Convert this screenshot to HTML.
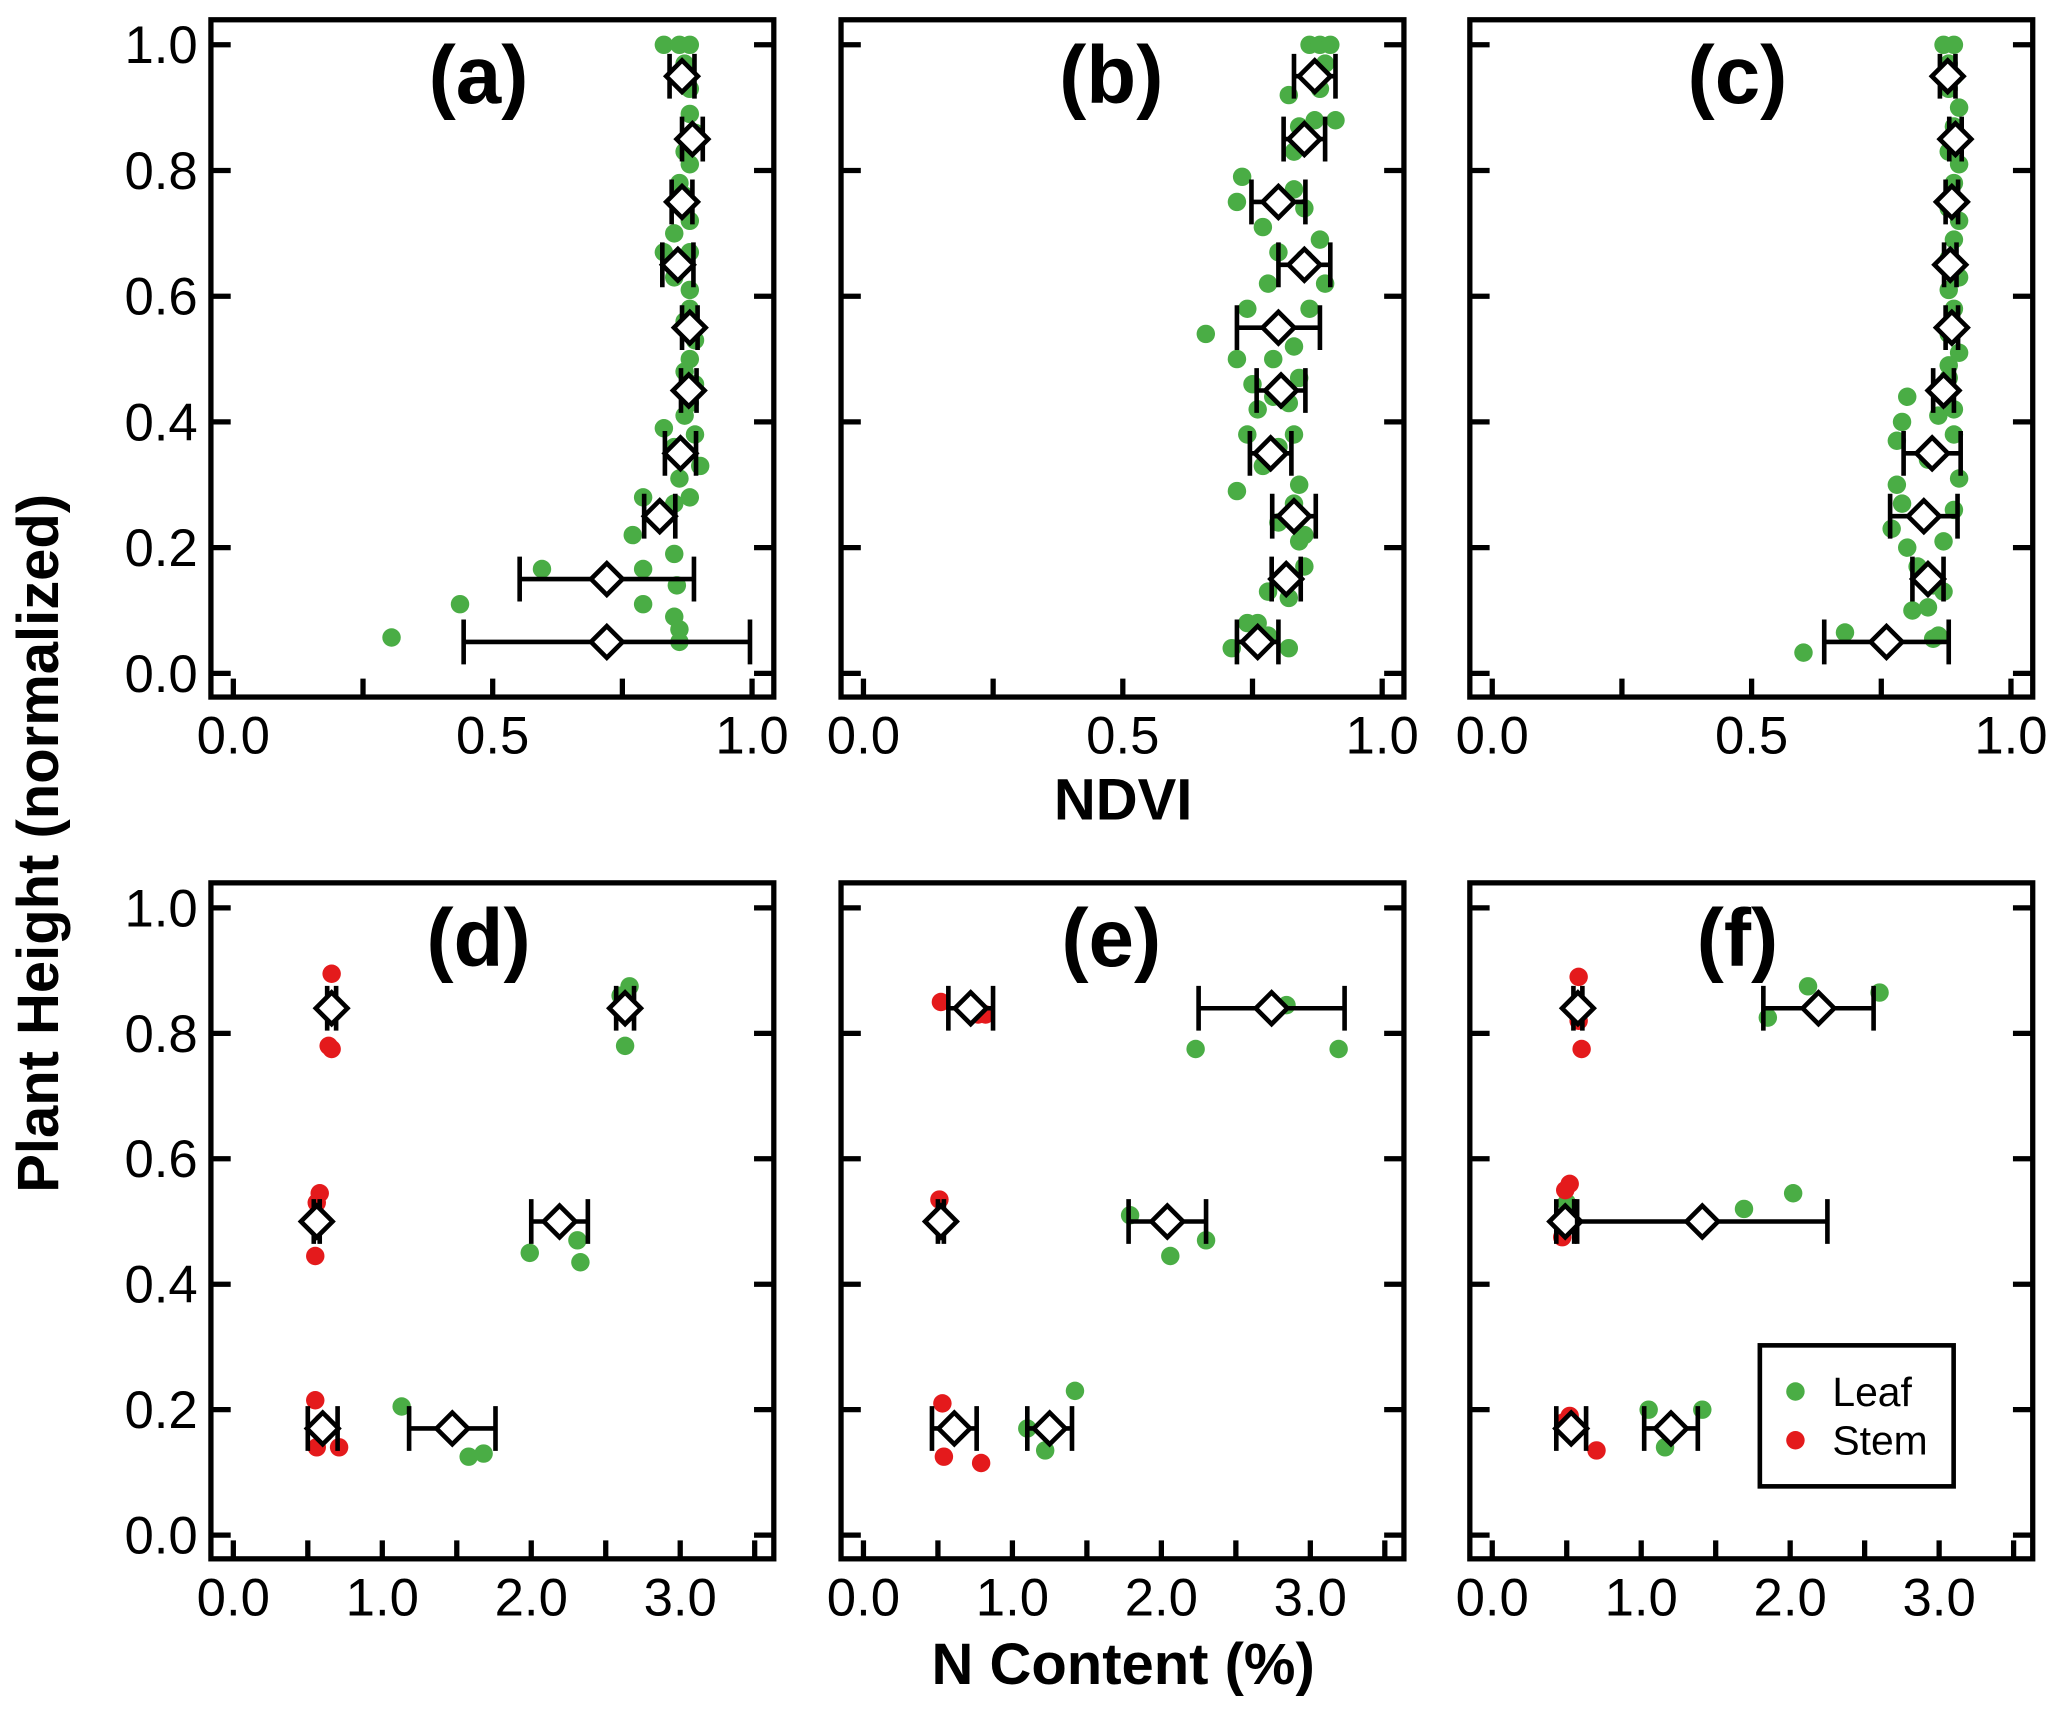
<!DOCTYPE html>
<html><head><meta charset="utf-8"><style>
html,body{margin:0;padding:0;background:#fff;}
svg{display:block;font-family:"Liberation Sans",Arial,sans-serif;}
</style></head><body>
<svg id="chart" width="2067" height="1713" viewBox="0 0 1568 1300" preserveAspectRatio="none" xmlns="http://www.w3.org/2000/svg"></svg>
<script>
// ---------- data ----------
const panelLabels = ["(a)","(b)","(c)","(d)","(e)","(f)"];
const ndviTicks = [0,0.25,0.5,0.75,1.0];
const ndviTickLabels = ["0.0","","0.5","","1.0"];
const nTicks = [0,0.5,1,1.5,2,2.5,3,3.5];
const nTickLabels = ["0.0","","1.0","","2.0","","3.0",""];
const yTicks = [0,0.2,0.4,0.6,0.8,1.0];
const yTickLabels = ["0.0","0.2","0.4","0.6","0.8","1.0"];
const ndviLevels = [0.95,0.85,0.75,0.65,0.55,0.45,0.35,0.25,0.15,0.05];
const aMeans = [0.865,0.885,0.865,0.857,0.88,0.878,0.862,0.822,0.72,0.72];
const aErr = [0.024,0.02,0.02,0.03,0.015,0.015,0.03,0.03,0.168,0.276];
const bMeans = [0.87,0.85,0.80,0.85,0.80,0.805,0.785,0.83,0.815,0.76];
const bErr = [0.04,0.04,0.052,0.05,0.08,0.047,0.04,0.042,0.028,0.04];
const cMeans = [0.878,0.893,0.886,0.883,0.886,0.87,0.848,0.832,0.84,0.76];
const cErr = [0.015,0.012,0.012,0.012,0.012,0.02,0.055,0.065,0.03,0.12];
const aPts = [[0.83,1.0],[0.86,1.0],[0.88,1.0],[0.87,0.97],[0.88,0.93],[0.88,0.89],[0.89,0.86],[0.87,0.83],[0.88,0.81],[0.86,0.78],[0.87,0.76],[0.88,0.72],[0.85,0.70],[0.83,0.67],[0.88,0.67],[0.85,0.63],[0.88,0.61],[0.86,0.66],[0.88,0.58],[0.87,0.56],[0.89,0.53],[0.88,0.50],[0.87,0.48],[0.89,0.46],[0.88,0.43],[0.87,0.41],[0.83,0.39],[0.89,0.38],[0.90,0.33],[0.86,0.31],[0.85,0.36],[0.88,0.28],[0.79,0.28],[0.85,0.27],[0.77,0.22],[0.85,0.19],[0.595,0.166],[0.79,0.166],[0.855,0.14],[0.437,0.11],[0.79,0.11],[0.305,0.057],[0.86,0.07],[0.86,0.05],[0.85,0.09]];
const bPts = [[0.86,1.0],[0.88,1.0],[0.90,1.0],[0.82,0.92],[0.89,0.97],[0.88,0.93],[0.91,0.88],[0.84,0.87],[0.87,0.88],[0.83,0.83],[0.73,0.79],[0.72,0.75],[0.83,0.77],[0.85,0.74],[0.77,0.71],[0.88,0.69],[0.80,0.67],[0.89,0.62],[0.78,0.62],[0.85,0.66],[0.66,0.54],[0.74,0.58],[0.72,0.50],[0.83,0.52],[0.86,0.58],[0.81,0.55],[0.79,0.50],[0.75,0.46],[0.76,0.42],[0.82,0.43],[0.84,0.47],[0.79,0.44],[0.74,0.38],[0.80,0.36],[0.83,0.38],[0.77,0.33],[0.72,0.29],[0.84,0.30],[0.83,0.27],[0.84,0.21],[0.85,0.22],[0.80,0.24],[0.85,0.17],[0.81,0.15],[0.78,0.13],[0.82,0.12],[0.71,0.04],[0.74,0.08],[0.76,0.08],[0.82,0.04],[0.78,0.06]];
const cPts = [[0.87,1.0],[0.89,1.0],[0.88,0.97],[0.89,0.95],[0.88,0.93],[0.90,0.90],[0.89,0.87],[0.88,0.83],[0.90,0.81],[0.89,0.78],[0.88,0.74],[0.90,0.72],[0.89,0.69],[0.88,0.66],[0.90,0.63],[0.88,0.61],[0.89,0.58],[0.88,0.54],[0.90,0.51],[0.88,0.49],[0.80,0.44],[0.88,0.47],[0.89,0.42],[0.86,0.41],[0.79,0.40],[0.78,0.37],[0.89,0.38],[0.84,0.34],[0.90,0.31],[0.78,0.30],[0.77,0.23],[0.79,0.27],[0.89,0.26],[0.87,0.21],[0.80,0.20],[0.82,0.17],[0.85,0.14],[0.87,0.13],[0.81,0.10],[0.84,0.105],[0.60,0.033],[0.68,0.065],[0.85,0.055],[0.86,0.06]];
const nLevels = [0.84,0.50,0.17];
const dStemMeans = [0.66,0.56,0.60];
const dStemErr = [0.03,0.02,0.1];
const dLeafMeans = [2.63,2.19,1.47];
const dLeafErr = [0.06,0.19,0.29];
const eStemMeans = [0.72,0.52,0.61];
const eStemErr = [0.15,0.02,0.15];
const eLeafMeans = [2.74,2.04,1.25];
const eLeafErr = [0.49,0.26,0.15];
const fStemMeans = [0.575,0.49,0.53];
const fStemErr = [0.03,0.06,0.1];
const fLeafMeans = [2.19,1.41,1.20];
const fLeafErr = [0.37,0.84,0.18];
const dStemPts = [[0.66,0.895],[0.64,0.78],[0.66,0.775],[0.58,0.545],[0.56,0.53],[0.55,0.445],[0.55,0.215],[0.56,0.14],[0.71,0.14],[0.60,0.18]];
const dLeafPts = [[2.66,0.875],[2.63,0.78],[2.60,0.86],[1.99,0.45],[2.31,0.47],[2.33,0.435],[1.13,0.205],[1.58,0.125],[1.68,0.13]];
const eStemPts = [[0.52,0.85],[0.77,0.83],[0.82,0.83],[0.51,0.535],[0.52,0.50],[0.53,0.21],[0.54,0.125],[0.79,0.115]];
const eLeafPts = [[2.23,0.775],[3.19,0.775],[2.84,0.845],[1.79,0.51],[2.06,0.445],[2.30,0.47],[1.42,0.23],[1.22,0.135],[1.10,0.17]];
const fStemPts = [[0.58,0.89],[0.58,0.82],[0.60,0.775],[0.52,0.56],[0.49,0.55],[0.47,0.475],[0.52,0.19],[0.70,0.135],[0.48,0.18]];
const fLeafPts = [[2.12,0.875],[2.60,0.865],[1.85,0.825],[1.69,0.52],[2.02,0.545],[0.50,0.53],[1.05,0.20],[1.41,0.20],[1.16,0.14]];

// ---------- drawing ----------
const NS="http://www.w3.org/2000/svg";
const svg=document.getElementById('chart');
const GREEN="#4aad45", RED="#e41a1c";
function mk(tag,attrs,parent){const e=document.createElementNS(NS,tag);for(const k in attrs)e.setAttribute(k,attrs[k]);(parent||svg).appendChild(e);return e;}

const colsX=[160,638,1115];
const rows=[{top:15,bottom:529,y1:34,y0:511},{top:670,bottom:1183,y1:689,y0:1165}];

function makePanel(idx,row,col,xmax,xPerUnit,xt,xtl){
  const L=colsX[col], R=L+427, r=rows[row];
  const g=mk('g',{});
  
  
  const x0=L+17;
  const sx=v=>x0+v*xPerUnit;
  const sy=v=>r.y0-(r.y0-r.y1)*v;
  const frame=mk('rect',{x:L,y:r.top,width:R-L,height:r.bottom-r.top,fill:'none',stroke:'#000','stroke-width':4},g);
  
  
  yTicks.forEach((t,i)=>{
    mk('line',{x1:L,x2:L+15,y1:sy(t),y2:sy(t),stroke:'#000','stroke-width':4},g);
    mk('line',{x1:R-15,x2:R,y1:sy(t),y2:sy(t),stroke:'#000','stroke-width':4},g);
    if(col===0){const tx=mk('text',{x:L-10,y:sy(t)+14,'text-anchor':'end','font-size':40},g);tx.textContent=yTickLabels[i];
      
      }
  });
  xt.forEach((t,i)=>{
    mk('line',{x1:sx(t),x2:sx(t),y1:r.bottom,y2:r.bottom-14,stroke:'#000','stroke-width':4},g);
    if(xtl[i]){const tx=mk('text',{x:sx(t),y:r.bottom+43,'text-anchor':'middle','font-size':40},g);tx.textContent=xtl[i];
      
      }
  });
  const lab=mk('text',{x:[363,843,1318][col],y:row===0?78:733,'text-anchor':'middle','font-size':62,'font-weight':'bold'},g);
  lab.textContent=panelLabels[idx];
  
  
  return {g,sx,sy};
}
function dots(p,pts,color){pts.forEach(d=>{const c=mk('circle',{cx:p.sx(d[0]),cy:p.sy(d[1]),r:7,fill:color},p.g);
  
  });}
function means(p,levels,m,e){levels.forEach((lv,i)=>{
  const y=p.sy(lv),xl=p.sx(m[i]-e[i]),xr=p.sx(m[i]+e[i]),xc=p.sx(m[i]);
  const eb=mk('path',{d:`M${xl},${y}H${xr}M${xl},${y-17}V${y+17}M${xr},${y-17}V${y+17}`,stroke:'#000','stroke-width':3.5,fill:'none'},p.g);
  
  
  const dm=mk('path',{d:`M${xc-12},${y}L${xc},${y-12}L${xc+12},${y}L${xc},${y+12}Z`,fill:'#fff',stroke:'#000','stroke-width':3.5},p.g);
  
  
});}

const topData=[[aPts,aMeans,aErr],[bPts,bMeans,bErr],[cPts,cMeans,cErr]];
topData.forEach((d,c)=>{const p=makePanel(c,0,c,1,393.5,ndviTicks,ndviTickLabels);dots(p,d[0],GREEN);means(p,ndviLevels,d[1],d[2]);});
const botData=[[dStemPts,dLeafPts,dStemMeans,dStemErr,dLeafMeans,dLeafErr],[eStemPts,eLeafPts,eStemMeans,eStemErr,eLeafMeans,eLeafErr],[fStemPts,fLeafPts,fStemMeans,fStemErr,fLeafMeans,fLeafErr]];
botData.forEach((d,c)=>{const p=makePanel(c+3,1,c,3.5,113,nTicks,nTickLabels);dots(p,d[1],GREEN);dots(p,d[0],RED);means(p,nLevels,d[2],d[3]);means(p,nLevels,d[4],d[5]);});

// axis titles
const t1=mk('text',{x:852,y:622,'text-anchor':'middle','font-size':44,'font-weight':'bold'});t1.textContent='NDVI';


const t2=mk('text',{x:852,y:1278,'text-anchor':'middle','font-size':44,'font-weight':'bold'});t2.textContent='N Content (%)';


const t3=mk('text',{x:0,y:0,'text-anchor':'middle','font-size':44,'font-weight':'bold',transform:'translate(44,640) rotate(-90)'});t3.textContent='Plant Height (normalized)';



// legend
const lg=mk('g',{});


mk('rect',{x:1335,y:1021,width:147,height:107,fill:'#fff',stroke:'#000','stroke-width':3.5},lg);
[[GREEN,'Leaf',1056],[RED,'Stem',1093]].forEach(e=>{
  const c=mk('circle',{cx:1362,cy:e[2],r:7,fill:e[0]},lg);
  
  
  const t=mk('text',{x:1390,y:e[2]+11,'font-size':31},lg);t.textContent=e[1];
  
  
});
</script>
</body></html>
